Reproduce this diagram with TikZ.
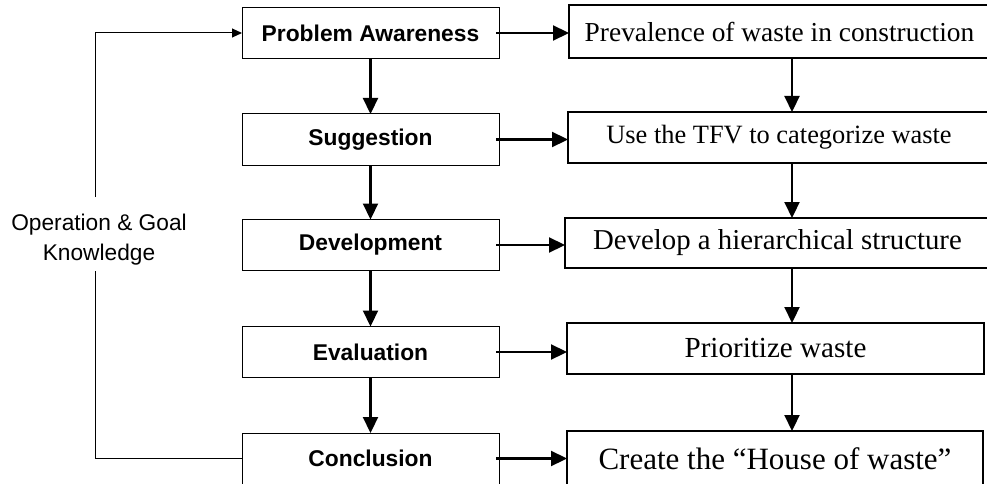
\documentclass[tikz,border=0pt]{standalone}
\usepackage{fontspec}
\setmainfont{Liberation Serif}
\setsansfont{Liberation Sans}
\usetikzlibrary{arrows.meta}
\begin{document}
\begin{tikzpicture}[x=1pt,y=-1pt,
  stage/.style={draw, line width=1pt, minimum width=257pt, minimum height=51pt,
    inner sep=0pt, outer sep=0pt, font=\sffamily\bfseries\fontsize{22.8}{27}\selectfont},
  result/.style={draw, line width=2pt, inner sep=0pt, outer sep=0pt},
  flow/.style={line width=2.2pt, -{Triangle[length=16pt,width=15pt]}},
  loopline/.style={line width=1pt},
]
\useasboundingbox (0,0) rectangle (987,484);

% design-science stages
\node[stage] (l1) at (370.5,33)    {Problem Awareness};
\node[stage] (l2) at (370.5,139.5) {Suggestion};
\node[stage] (l3) at (370.5,245)   {Development};
\node[stage] (l4) at (370.5,352)   {Evaluation};
\node[stage] (l5) at (370.5,458.5) {Conclusion};

% outcomes of each stage
\node[result, minimum width=421pt, minimum height=53pt,
  font=\fontsize{27.4}{32}\selectfont] (r1) at (779.5,31.5) {Prevalence of waste in construction};
\node[result, minimum width=422pt, minimum height=51pt,
  font=\fontsize{26.4}{31}\selectfont] (r2) at (779,137.5) {Use the TFV to categorize waste};
\node[result, minimum width=425pt, minimum height=50pt,
  font=\fontsize{28.8}{33}\selectfont] (r3) at (777.5,243) {Develop a hierarchical structure};
\node[result, minimum width=417pt, minimum height=51pt,
  font=\fontsize{29.1}{33}\selectfont] (r4) at (775.5,348.5) {Prioritize waste};
\node[result, minimum width=416pt, minimum height=56pt,
  font=\fontsize{31}{35}\selectfont] (r5) at (775,459) {Create the “House of waste”};

% knowledge feedback loop
\node[font=\sffamily\fontsize{22.7}{30}\selectfont, align=center] (knw) at (99,240)
  {Operation \& Goal\\Knowledge};
\coordinate (gapTop) at (95,197);
\coordinate (gapBot) at (95,271);
\coordinate (colx) at (792,0);

% stage to stage
\draw[flow] (l1.south) -- (l2.north);
\draw[flow] (l2.south) -- (l3.north);
\draw[flow] (l3.south) -- (l4.north);
\draw[flow] (l4.south) -- (l5.north);

% stage to outcome
\foreach \i in {1,...,5}
  \draw[flow] ([xshift=-3pt]l\i.east) -- (l\i.east -| r\i.west);

% outcome to outcome
\draw[flow] (r1.south -| colx) -- (r2.north -| colx);
\draw[flow] (r2.south -| colx) -- (r3.north -| colx);
\draw[flow] (r3.south -| colx) -- (r4.north -| colx);
\draw[flow] (r4.south -| colx) -- (r5.north -| colx);

% loop back to the first stage
\draw[loopline] (l5.west) -| (gapBot);
\draw[loopline, -{Triangle[length=10pt,width=9pt]}] (gapTop) |- (l1.west);
\end{tikzpicture}
\end{document}
